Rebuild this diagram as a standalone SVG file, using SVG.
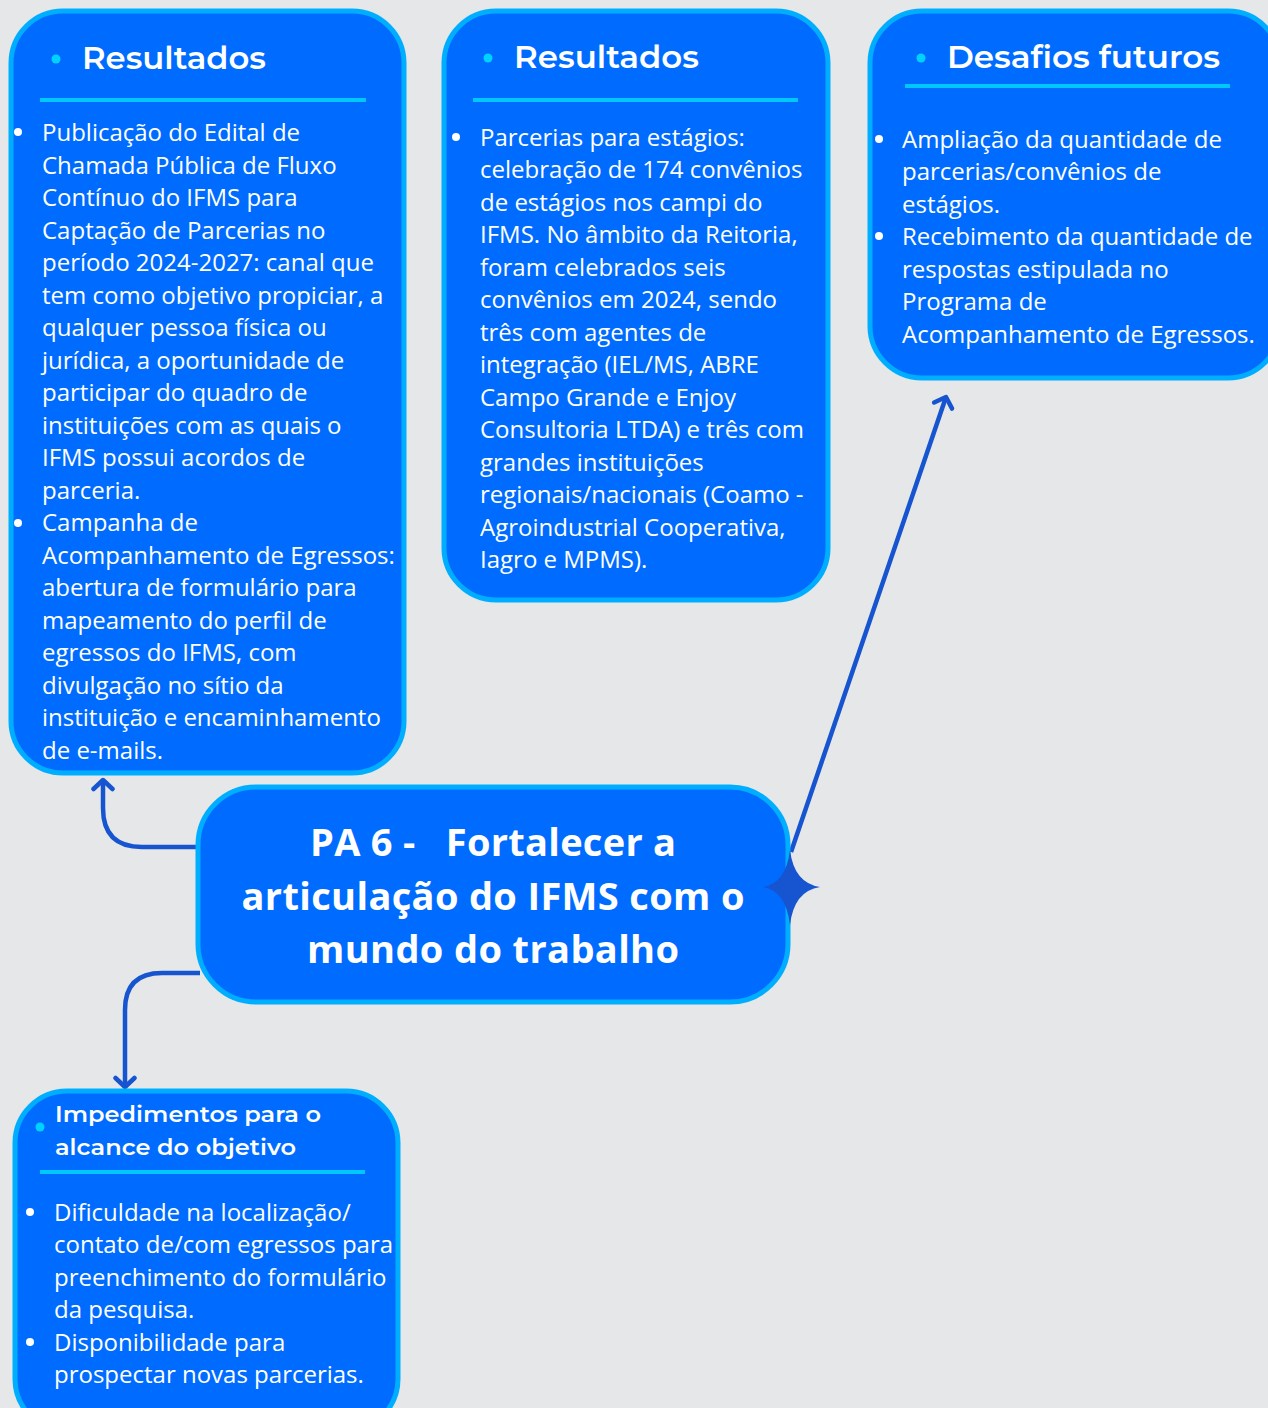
<svg xmlns="http://www.w3.org/2000/svg" width="1268" height="1408" viewBox="0 0 1268 1408">
<defs>
<style>
.box{fill:#006CFF;stroke:#00AEFF;stroke-width:5}
.hd{font-family:Montserrat,Inter,"Open Sans",sans-serif;font-weight:600;fill:#fff}
.tx{font-family:"Open Sans","Noto Sans",sans-serif;font-size:24px;fill:#fff}
.ttl{font-family:"Open Sans","Noto Sans",sans-serif;font-weight:700;font-size:38px;fill:#fff;text-anchor:middle}
.ul{stroke:#00C8FF;stroke-width:4}
.hdot{fill:#00D2FF}
.wdot{fill:#fff}
.con{fill:none;stroke:#1655CF;stroke-width:4.5}
</style>
<marker id="arr" viewBox="0 0 24 24" refX="14" refY="12" markerWidth="24" markerHeight="24" markerUnits="userSpaceOnUse" orient="auto">
<path d="M5,2.5 L14,12 L5,21.5" fill="none" stroke="#1655CF" stroke-width="4.5" stroke-linecap="round" stroke-linejoin="round"/>
</marker>
</defs>
<rect width="1268" height="1408" fill="#E6E7E9"/>

<g id="connectors">
<path class="con" d="M198,847 H142 Q103,847 103,808 V780" marker-end="url(#arr)"/>
<path class="con" d="M200,973 H162 Q125,973 125,1010 V1087" marker-end="url(#arr)"/>
<path class="con" d="M791,852 L946,397" marker-end="url(#arr)"/>
</g>

<g id="node-resultados-1">
<rect class="box" x="11" y="11" width="393" height="762" rx="52"/>
<circle class="hdot" cx="56" cy="59" r="4.5"/>
<text class="hd" x="82" y="69" font-size="31" textLength="184" lengthAdjust="spacingAndGlyphs">Resultados</text>
<line class="ul" x1="40" y1="100" x2="366" y2="100"/>
<circle class="wdot" cx="18" cy="132" r="4"/>
<circle class="wdot" cx="18" cy="523" r="4"/>
<text class="tx">
<tspan x="42" y="141">Publicação do Edital de</tspan>
<tspan x="42" y="173.5">Chamada Pública de Fluxo</tspan>
<tspan x="42" y="206">Contínuo do IFMS para</tspan>
<tspan x="42" y="238.5">Captação de Parcerias no</tspan>
<tspan x="42" y="271">período 2024-2027: canal que</tspan>
<tspan x="42" y="303.5">tem como objetivo propiciar, a</tspan>
<tspan x="42" y="336">qualquer pessoa física ou</tspan>
<tspan x="42" y="368.5">jurídica, a oportunidade de</tspan>
<tspan x="42" y="401">participar do quadro de</tspan>
<tspan x="42" y="433.5">instituições com as quais o</tspan>
<tspan x="42" y="466">IFMS possui acordos de</tspan>
<tspan x="42" y="498.5">parceria.</tspan>
<tspan x="42" y="531">Campanha de</tspan>
<tspan x="42" y="563.5">Acompanhamento de Egressos:</tspan>
<tspan x="42" y="596">abertura de formulário para</tspan>
<tspan x="42" y="628.5">mapeamento do perfil de</tspan>
<tspan x="42" y="661">egressos do IFMS, com</tspan>
<tspan x="42" y="693.5">divulgação no sítio da</tspan>
<tspan x="42" y="726">instituição e encaminhamento</tspan>
<tspan x="42" y="758.5">de e-mails.</tspan>
</text>
</g>

<g id="node-resultados-2">
<rect class="box" x="444" y="11" width="384" height="589" rx="52"/>
<circle class="hdot" cx="488" cy="58" r="4.5"/>
<text class="hd" x="514" y="68" font-size="31" textLength="185" lengthAdjust="spacingAndGlyphs">Resultados</text>
<line class="ul" x1="473" y1="100" x2="798" y2="100"/>
<circle class="wdot" cx="456" cy="137" r="4"/>
<text class="tx">
<tspan x="480" y="145.5">Parcerias para estágios:</tspan>
<tspan x="480" y="178">celebração de 174 convênios</tspan>
<tspan x="480" y="210.5">de estágios nos campi do</tspan>
<tspan x="480" y="243">IFMS. No âmbito da Reitoria,</tspan>
<tspan x="480" y="275.5">foram celebrados seis</tspan>
<tspan x="480" y="308">convênios em 2024, sendo</tspan>
<tspan x="480" y="340.5">três com agentes de</tspan>
<tspan x="480" y="373">integração (IEL/MS, ABRE</tspan>
<tspan x="480" y="405.5">Campo Grande e Enjoy</tspan>
<tspan x="480" y="438">Consultoria LTDA) e três com</tspan>
<tspan x="480" y="470.5">grandes instituições</tspan>
<tspan x="480" y="503">regionais/nacionais (Coamo -</tspan>
<tspan x="480" y="535.5">Agroindustrial Cooperativa,</tspan>
<tspan x="480" y="568">Iagro e MPMS).</tspan>
</text>
</g>

<g id="node-desafios">
<rect class="box" x="870" y="11" width="410" height="367" rx="52"/>
<circle class="hdot" cx="921" cy="58" r="4.5"/>
<text class="hd" x="947" y="68" font-size="31" textLength="273" lengthAdjust="spacingAndGlyphs">Desafios futuros</text>
<line class="ul" x1="905" y1="86" x2="1230" y2="86"/>
<circle class="wdot" cx="879" cy="139" r="4"/>
<circle class="wdot" cx="879" cy="236" r="4"/>
<text class="tx">
<tspan x="902" y="147.5">Ampliação da quantidade de</tspan>
<tspan x="902" y="180">parcerias/convênios de</tspan>
<tspan x="902" y="212.5">estágios.</tspan>
<tspan x="902" y="245">Recebimento da quantidade de</tspan>
<tspan x="902" y="277.5">respostas estipulada no</tspan>
<tspan x="902" y="310">Programa de</tspan>
<tspan x="902" y="342.5">Acompanhamento de Egressos.</tspan>
</text>
</g>

<g id="node-pa6">
<rect class="box" x="198" y="787" width="590" height="215" rx="58"/>
<path d="M763,887 Q786,883 790,850 Q794,883 820,887 Q794,891 790,925 Q786,891 763,887 Z" fill="#1655CF"/>
<text class="ttl" xml:space="preserve"><tspan x="493" y="856" textLength="366">PA 6 -   Fortalecer a</tspan><tspan x="493" y="910" textLength="503">articulação do IFMS com o</tspan><tspan x="493" y="963" textLength="372">mundo do trabalho</tspan></text>
</g>

<g id="node-impedimentos">
<rect class="box" x="15" y="1091" width="383" height="340" rx="52"/>
<circle class="hdot" cx="40" cy="1127" r="4.5"/>
<text class="hd" font-size="22">
<tspan x="55" y="1122" textLength="266" lengthAdjust="spacingAndGlyphs">Impedimentos para o</tspan>
<tspan x="55" y="1155" textLength="241" lengthAdjust="spacingAndGlyphs">alcance do objetivo</tspan>
</text>
<line class="ul" x1="40" y1="1172" x2="365" y2="1172"/>
<circle class="wdot" cx="30" cy="1212" r="4"/>
<circle class="wdot" cx="30" cy="1342" r="4"/>
<text class="tx">
<tspan x="54" y="1220.5">Dificuldade na localização/</tspan>
<tspan x="54" y="1253">contato de/com egressos para</tspan>
<tspan x="54" y="1285.5">preenchimento do formulário</tspan>
<tspan x="54" y="1318">da pesquisa.</tspan>
<tspan x="54" y="1350.5">Disponibilidade para</tspan>
<tspan x="54" y="1383">prospectar novas parcerias.</tspan>
</text>
</g>
</svg>
